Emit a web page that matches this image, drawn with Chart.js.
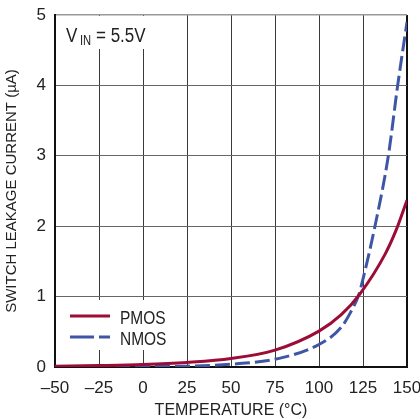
<!DOCTYPE html>
<html>
<head>
<meta charset="utf-8">
<script src="https://cdn.jsdelivr.net/npm/chart.js@4/dist/chart.umd.min.js"></script>
<style>
  html, body { margin: 0; padding: 0; background: #fff; }
  #wrap { width: 420px; height: 419px; }
</style>
</head>
<body>
<div id="wrap"><canvas id="c" width="420" height="419"></canvas></div>
<script>
// values
const pmosTemp = [-50, -25, 0, 25, 50, 75, 100, 112.5, 123.3, 137.5, 143.75, 150];
const pmosCurrent = [0.01, 0.02, 0.035, 0.065, 0.12, 0.24, 0.51, 0.74, 1.04, 1.6, 1.94, 2.37];
const nmosTemp = [-50, -25, 0, 25, 50, 75, 100, 112.5, 118, 122.5, 125, 131.8, 139.4, 144.7, 150];
const nmosCurrent = [0, 0.002, 0.005, 0.012, 0.04, 0.11, 0.32, 0.56, 0.78, 1.02, 1.25, 2.0, 3.0, 4.0, 4.9];
const xTicks = [-50, -25, 0, 25, 50, 75, 100, 125, 150];
const yTicks = [0, 1, 2, 3, 4, 5];

const FONT = "'Liberation Sans', Arial, sans-serif";
const RED = '#9c0c36';
const BLUE = '#3f56a6';
const INK = '#222';

// narrow text: regular face squeezed sideways
function narrowText(ctx, str, x, y, size, squeeze) {
  ctx.save();
  ctx.font = size + 'px ' + FONT;
  ctx.translate(x, y);
  ctx.scale(squeeze, 1);
  ctx.fillText(str, 0, 0);
  ctx.restore();
}

// legend + V_IN note drawn inside the plot, on white boxes over the grid
const notes = {
  id: 'notes',
  beforeDatasetsDraw(chart) {
    const ctx = chart.ctx, a = chart.chartArea;
    ctx.save();
    ctx.fillStyle = '#fff';
    ctx.fillRect(a.left + 1, a.top + 1, 95, 33);
    ctx.fillRect(a.left + 1, 300, 125, 50);

    ctx.fillStyle = INK;
    ctx.textBaseline = 'alphabetic';
    narrowText(ctx, 'V', 66, 42, 20, 0.85);
    narrowText(ctx, 'IN', 80, 45, 14, 0.8);
    narrowText(ctx, '= 5.5V', 96, 42, 20, 0.85);

    ctx.lineWidth = 3;
    ctx.strokeStyle = RED;
    ctx.beginPath(); ctx.moveTo(70, 316); ctx.lineTo(110, 316); ctx.stroke();
    ctx.strokeStyle = BLUE;
    ctx.setLineDash([24, 5]);
    ctx.beginPath(); ctx.moveTo(70, 337); ctx.lineTo(110, 337); ctx.stroke();
    ctx.setLineDash([]);
    narrowText(ctx, 'PMOS', 120, 323.5, 18, 0.86);
    narrowText(ctx, 'NMOS', 120, 344.5, 18, 0.86);
    ctx.restore();
  }
};

new Chart(document.getElementById('c'), {
  type: 'line',
  data: {
    datasets: [
      {
        label: 'PMOS',
        data: pmosTemp.map((t, i) => ({ x: t, y: pmosCurrent[i] })),
        borderColor: RED, borderWidth: 3, pointRadius: 0,
        cubicInterpolationMode: 'monotone', fill: false
      },
      {
        label: 'NMOS',
        data: nmosTemp.map((t, i) => ({ x: t, y: nmosCurrent[i] })),
        borderColor: BLUE, borderWidth: 3, borderDash: [15, 5], pointRadius: 0,
        cubicInterpolationMode: 'monotone', fill: false
      }
    ]
  },
  options: {
    responsive: false,
    animation: false,
    devicePixelRatio: 1,
    layout: { padding: { left: 0, right: 13, top: 15, bottom: 0 } },
    plugins: { legend: { display: false }, tooltip: { enabled: false } },
    scales: {
      x: {
        type: 'linear', min: -50, max: 150,
        afterBuildTicks: s => { s.ticks = xTicks.map(v => ({ value: v })); },
        afterFit: s => { s.height = 52; s.paddingLeft = 0; s.paddingRight = 0; },
        border: { display: true, color: '#111', width: 2 },
        grid: {
          drawTicks: false,
          color: c => c.tick && c.tick.value === 150 ? '#111' : '#3a3a3a',
          lineWidth: c => c.tick && c.tick.value === 150 ? 2 : 1
        },
        ticks: {
          padding: 11, color: INK, font: { family: FONT, size: 17 },
          callback: v => v < 0 ? '\u2013' + Math.abs(v) : String(v)
        },
        title: {
          display: true, text: 'TEMPERATURE (\u00b0C)', color: INK,
          font: { family: FONT, size: 16, lineHeight: 1 }, padding: { top: 0, bottom: 0 }
        }
      },
      y: {
        min: 0, max: 5,
        afterBuildTicks: s => { s.ticks = yTicks.map(v => ({ value: v })); },
        afterFit: s => { s.width = 55; s.paddingTop = 0; s.paddingBottom = 0; },
        border: { display: true, color: '#111', width: 2 },
        grid: {
          drawTicks: false,
          color: c => c.tick && c.tick.value === 5 ? '#999' : '#666',
          lineWidth: c => c.tick && c.tick.value === 5 ? 1.5 : 1
        },
        ticks: {
          padding: 9, color: INK, font: { family: FONT, size: 17 }
        },
        title: {
          display: true, text: 'SWITCH LEAKAGE CURRENT (\u00b5A)', color: INK,
          font: { family: FONT, size: 15 }, padding: { top: 3, bottom: 0 }
        }
      }
    }
  },
  plugins: [notes]
});
</script>
</body>
</html>
